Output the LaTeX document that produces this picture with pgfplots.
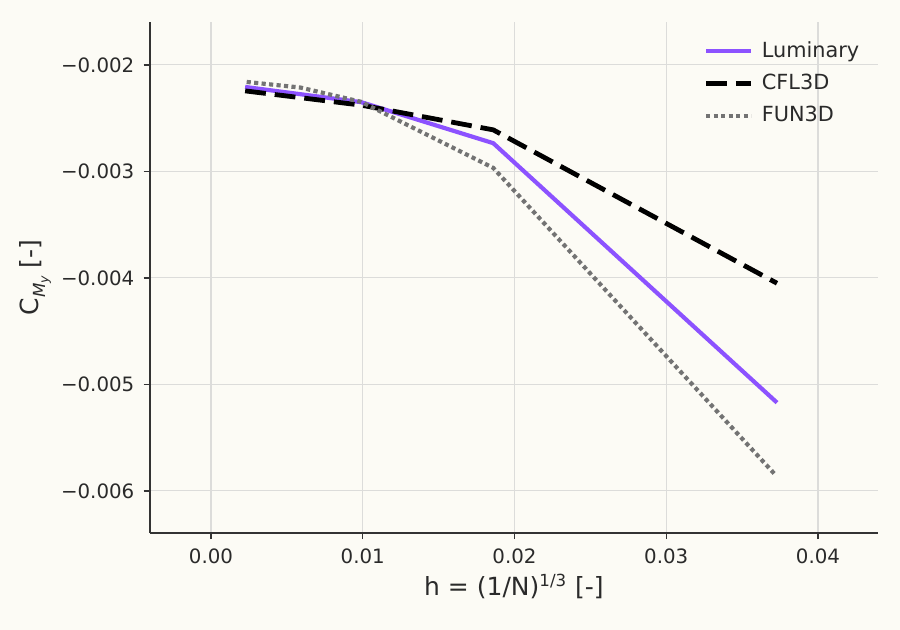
\documentclass[border=0pt]{standalone}
\usepackage{fontspec}
\setmainfont{DejaVu Sans}
\usepackage{pgfplots}
\pgfplotsset{compat=1.18}

\definecolor{bgc}{HTML}{FCFBF5}
\definecolor{gridc}{HTML}{DCDCDA}
\definecolor{spinec}{HTML}{333333}
\definecolor{txtc}{HTML}{2A2A2A}
\definecolor{lumi}{HTML}{8C52FF}
\definecolor{fung}{HTML}{737373}

\pgfplotstableread{
h        c
0.00225  -0.002207
0.0099   -0.002350
0.0186   -0.002735
0.0373   -0.005171
}\luminary

\pgfplotstableread{
h        c
0.00225  -0.002244
0.0099   -0.002378
0.0186   -0.002610
0.0373   -0.004050
}\cflthreed

\pgfplotstableread{
h        c
0.00235  -0.002160
0.0059   -0.002213
0.0099   -0.002347
0.0186   -0.002967
0.0372   -0.005850
}\funthreed

\begin{document}
\begin{tikzpicture}
\fill[bgc] (0,0) rectangle (432pt,302.4pt);
\useasboundingbox (0,0) rectangle (432pt,302.4pt);
\begin{axis}[
  at={(72pt,46.6pt)}, anchor=south west,
  scale only axis, width=349.4pt, height=245.3pt,
  axis background/.style={fill=bgc},
  xmin=-0.00402, xmax=0.04395,
  ymin=-0.006394, ymax=-0.001596,
  scaled ticks=false,
  axis lines=left,
  axis line style={spinec, line width=0.7pt, -},
  xtick={0,0.01,0.02,0.03,0.04},
  xticklabels={0.00,0.01,0.02,0.03,0.04},
  ytick={-0.006,-0.005,-0.004,-0.003,-0.002},
  yticklabels={−0.006,−0.005,−0.004,−0.003,−0.002},
  tick align=outside,
  major tick length=3pt,
  tick style={spinec, line width=0.7pt},
  grid=major,
  major grid style={gridc, line width=0.5pt},
  ticklabel style={font=\fontsize{9.5}{11}\selectfont, text=txtc},
  xticklabel style={yshift=-1pt},
  yticklabel style={xshift=-1pt},
  xlabel={h = (1/N)\textsuperscript{1/3} [-]},
  ylabel={C\raisebox{-0.45ex}{\fontsize{8}{8}\selectfont\itshape M\raisebox{-0.35ex}{\fontsize{6}{6}\selectfont y}} [-]},
  label style={font=\fontsize{12}{14}\selectfont, text=txtc},
  xlabel style={yshift=2pt},
  ylabel style={yshift=-2pt},
  legend style={draw=none, fill=none, at={(rel axis cs:0.995,0.978)}, anchor=north east,
    font=\fontsize{10}{12}\selectfont, text=txtc, row sep=2.5pt,
    nodes={inner xsep=4pt}},
  legend cell align=left,
  legend image code/.code={\draw[#1] (-3.5pt,0pt) -- (18.1pt,0pt);},
]
\addplot[lumi, line width=2pt] table[x=h, y=c] {\luminary};
\addlegendentry{Luminary}
\addplot[black, line width=2.3pt, dash pattern=on 10pt off 4.3pt] table[x=h, y=c] {\cflthreed};
\addlegendentry{CFL3D}
\addplot[fung, line width=2pt, dash pattern=on 2pt off 1.6pt] table[x=h, y=c] {\funthreed};
\addlegendentry{FUN3D}
\end{axis}
\end{tikzpicture}
\end{document}
